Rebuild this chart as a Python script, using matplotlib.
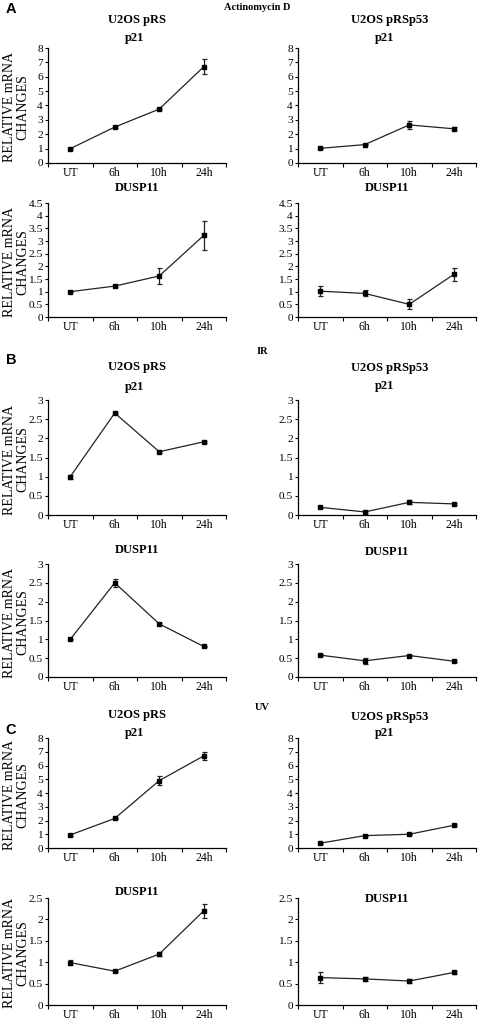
import matplotlib
matplotlib.use("Agg")
import matplotlib.pyplot as plt
from matplotlib.ticker import FuncFormatter, MultipleLocator, FixedLocator

plt.rcParams["font.family"] = ["Liberation Serif", "DejaVu Serif"]

W, H = 480, 1021

timepoints = ["UT", "6h", "10h", "24h"]

# Actinomycin D
act_prs_p21 = [1.0, 2.5, 3.75, 6.7]
act_prs_p21_err = [0.05, 0.08, 0.08, 0.5]
act_p53_p21 = [1.02, 1.28, 2.65, 2.38]
act_p53_p21_err = [0.05, 0.05, 0.3, 0.1]
act_prs_dusp = [1.0, 1.22, 1.62, 3.22]
act_prs_dusp_err = [0.02, 0.03, 0.32, 0.58]
act_p53_dusp = [1.02, 0.93, 0.50, 1.68]
act_p53_dusp_err = [0.2, 0.12, 0.2, 0.27]

# IR
ir_prs_p21 = [1.0, 2.66, 1.65, 1.91]
ir_prs_p21_err = [0.05, 0.02, 0.02, 0.02]
ir_p53_p21 = [0.2, 0.08, 0.33, 0.29]
ir_p53_p21_err = [0.02, 0.02, 0.05, 0.03]
ir_prs_dusp = [1.0, 2.5, 1.41, 0.81]
ir_prs_dusp_err = [0.02, 0.1, 0.02, 0.02]
ir_p53_dusp = [0.58, 0.43, 0.57, 0.42]
ir_p53_dusp_err = [0.02, 0.08, 0.02, 0.02]

# UV
uv_prs_p21 = [0.95, 2.15, 4.9, 6.7]
uv_prs_p21_err = [0.05, 0.05, 0.33, 0.3]
uv_p53_p21 = [0.35, 0.9, 1.0, 1.65]
uv_p53_p21_err = [0.03, 0.05, 0.05, 0.08]
uv_prs_dusp = [0.99, 0.79, 1.19, 2.2]
uv_prs_dusp_err = [0.05, 0.01, 0.04, 0.17]
uv_p53_dusp = [0.64, 0.61, 0.56, 0.76]
uv_p53_dusp_err = [0.13, 0.04, 0.04, 0.03]

fig = plt.figure(figsize=(W / 100, H / 100), dpi=100)


def fx(x):
    return x / W


def fy(y):
    return 1 - y / H


def panel(left, right, top, bottom, vals, errs, ymax, step):
    ax = fig.add_axes([fx(left), fy(bottom), fx(right - left), (bottom - top) / H])
    xs = range(len(timepoints))
    ax.errorbar(xs, vals, yerr=errs, color="#222222", lw=0.9, ecolor="#222222",
                elinewidth=0.9, capsize=1.8, capthick=0.9,
                marker="s", ms=2.6, mfc="black", mec="black")
    ax.set_xlim(-0.5, 3.5)
    ax.set_ylim(0, ymax)
    ax.yaxis.set_major_locator(MultipleLocator(step))
    ax.yaxis.set_major_formatter(FuncFormatter(lambda v, p: f"{v:g}"))
    ax.set_xticks(list(xs))
    ax.set_xticklabels(timepoints)
    ax.xaxis.set_minor_locator(FixedLocator([-0.5, 0.5, 1.5, 2.5, 3.5]))
    ax.tick_params(axis="x", which="major", length=0, labelsize=8.5, pad=3)
    ax.tick_params(axis="x", which="minor", length=3, width=0.8, direction="out")
    ax.tick_params(axis="y", length=2.5, width=0.8, labelsize=8.2, pad=1.2)
    for s in ("top", "right"):
        ax.spines[s].set_visible(False)
    for s in ("left", "bottom"):
        ax.spines[s].set_linewidth(0.9)
    return ax


LX = (48, 226)
RX = (298, 476)
rows = [
    (48, 163, act_prs_p21, act_prs_p21_err, act_p53_p21, act_p53_p21_err, 8, 1),
    (203, 317, act_prs_dusp, act_prs_dusp_err, act_p53_dusp, act_p53_dusp_err, 4.5, 0.5),
    (400, 515, ir_prs_p21, ir_prs_p21_err, ir_p53_p21, ir_p53_p21_err, 3, 0.5),
    (564, 677, ir_prs_dusp, ir_prs_dusp_err, ir_p53_dusp, ir_p53_dusp_err, 3, 0.5),
    (738, 848, uv_prs_p21, uv_prs_p21_err, uv_p53_p21, uv_p53_p21_err, 8, 1),
    (898, 1005, uv_prs_dusp, uv_prs_dusp_err, uv_p53_dusp, uv_p53_dusp_err, 2.5, 0.5),
]

for top, bottom, lv, le, rv, re_, ymax, step in rows:
    panel(LX[0], LX[1], top, bottom, lv, le, ymax, step)
    panel(RX[0], RX[1], top, bottom, rv, re_, ymax, step)
    fig.text(fx(16), fy((top + bottom) / 2 + 2), "RELATIVE mRNA\nCHANGES",
             rotation=90, ha="center", va="center", multialignment="center",
             fontsize=10, linespacing=1.0)


def title(x, y, s, size=9):
    fig.text(fx(x), fy(y), s, ha="center", va="center", fontsize=size,
             fontweight="bold")


# panel titles
title(137, 20, "U2OS pRS")
title(135, 38, "p21")
title(390, 20, "U2OS pRSp53")
title(385, 38, "p21")
title(137, 188, "DUSP11")
title(387, 188, "DUSP11")

title(137, 367, "U2OS pRS")
title(135, 387, "p21")
title(390, 368, "U2OS pRSp53")
title(385, 386, "p21")
title(137, 550, "DUSP11")
title(387, 552, "DUSP11")

title(137, 715, "U2OS pRS")
title(135, 733, "p21")
title(390, 717, "U2OS pRSp53")
title(385, 733, "p21")
title(137, 892, "DUSP11")
title(387, 899, "DUSP11")

# treatment headers
title(257, 7, "Actinomycin D", size=7.5)
title(262, 352, "IR", size=7.5)
title(262, 707, "UV", size=7.5)

# section letters
for letter, y in (("A", 9), ("B", 360), ("C", 730)):
    fig.text(fx(11), fy(y), letter, ha="center", va="center", fontsize=10.5,
             fontweight="bold", family=["Liberation Sans", "DejaVu Sans"])

fig.savefig("out.png", dpi=100, facecolor="white")
